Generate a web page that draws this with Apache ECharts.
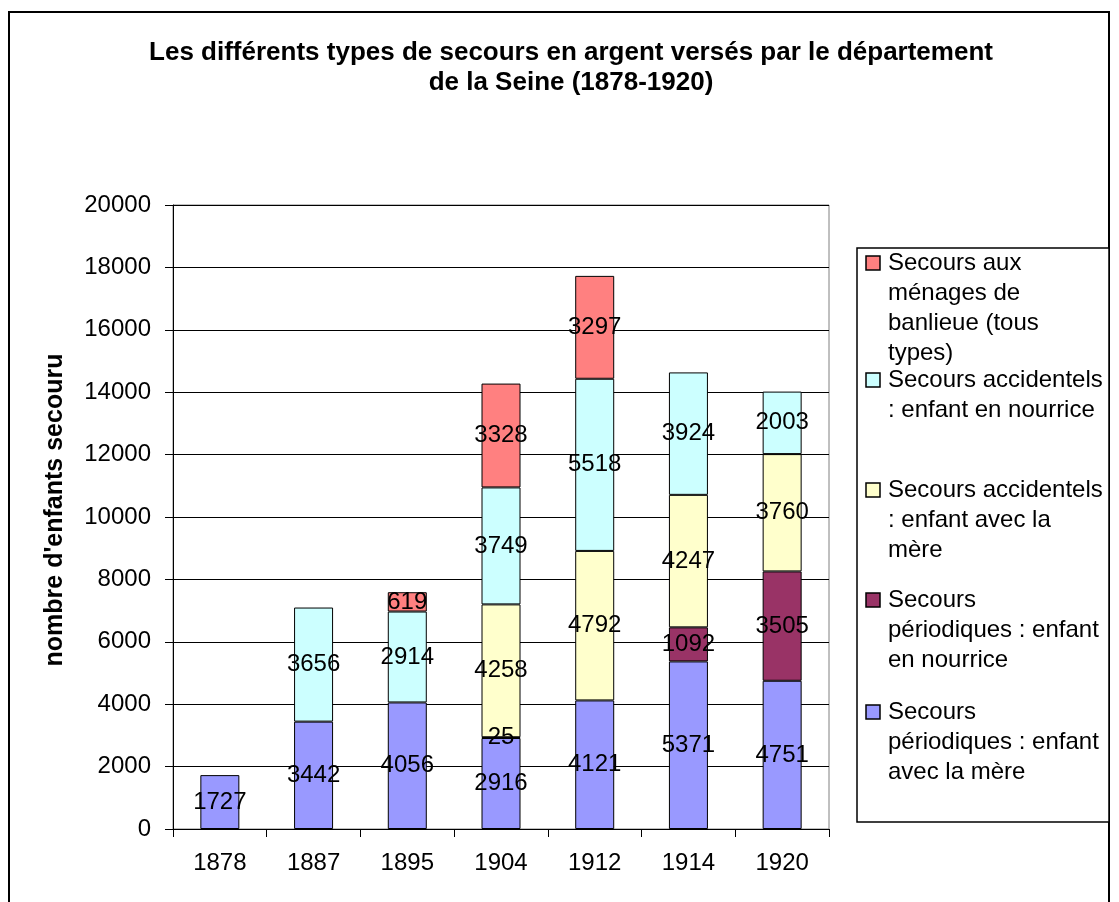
<!DOCTYPE html>
<html>
<head>
<meta charset="utf-8">
<script src="https://cdn.jsdelivr.net/npm/echarts@6/dist/echarts.min.js"></script>
<style>
  html, body { margin: 0; padding: 0; background: #fff; }
  #chart { width: 1119px; height: 902px; }
</style>
</head>
<body>
<div id="chart"></div>
<script>
// Years of the survey
var years = ['1878', '1887', '1895', '1904', '1912', '1914', '1920'];

// Number of children helped, by kind of relief (null = none recorded)
var periodiqueMere     = [1727, 3442, 4056, 2916, 4121, 5371, 4751];
var periodiqueNourrice = [null, null, null, 25, null, 1092, 3505];
var accidentelMere     = [null, null, null, 4258, 4792, 4247, 3760];
var accidentelNourrice = [null, 3656, 2914, 3749, 5518, 3924, 2003];
var banlieue           = [null, null, 619, 3328, 3297, null, null];

// Series names, stacked from bottom to top
var seriesNames = [
  'Secours périodiques : enfant avec la mère',
  'Secours périodiques : enfant en nourrice',
  'Secours accidentels : enfant avec la mère',
  'Secours accidentels : enfant en nourrice',
  'Secours aux ménages de banlieue (tous types)'
];
// Legend wording (wrapped), same order as the series
var legendTexts = [
  'Secours\npériodiques : enfant\navec la mère',
  'Secours\npériodiques : enfant\nen nourrice',
  'Secours accidentels\n: enfant avec la\nmère',
  'Secours accidentels\n: enfant en nourrice',
  'Secours aux\nménages de\nbanlieue (tous\ntypes)'
];
var seriesValues = [periodiqueMere, periodiqueNourrice, accidentelMere, accidentelNourrice, banlieue];
var seriesColors = ['#9999FF', '#993366', '#FFFFCC', '#CCFFFF', '#FF8080'];

var FONT = '"Liberation Sans", Arial, sans-serif';

var chart = echarts.init(document.getElementById('chart'), null, { renderer: 'canvas' });

var series = seriesValues.map(function (vals, i) {
  return {
    name: seriesNames[i],
    type: 'bar',
    stack: 'total',
    barWidth: 39,
    data: vals,
    itemStyle: { color: seriesColors[i], borderColor: '#000', borderWidth: 1 },
    label: {
      show: true,
      position: 'inside',
      color: '#000',
      fontSize: 24,
      fontFamily: FONT,
      textBorderWidth: 0
    },
    emphasis: { disabled: true }
  };
});

// Legend drawn as a boxed list, top entry = top of the stack
var legendFirstLine = [712, 600, 490, 380, 263];
var legendGraphics = [{
  type: 'rect',
  shape: { x: 857, y: 248, width: 252, height: 574 },
  style: { fill: '#fff', stroke: '#000', lineWidth: 1.5 },
  z: 10
}];
legendTexts.forEach(function (t, i) {
  var cy = legendFirstLine[i];
  legendGraphics.push({
    type: 'rect',
    shape: { x: 866, y: cy - 7, width: 14, height: 14 },
    style: { fill: seriesColors[i], stroke: '#000', lineWidth: 1.5 },
    z: 11
  });
  legendGraphics.push({
    type: 'text',
    x: 888,
    y: cy - 15,
    style: {
      text: t,
      fill: '#000',
      fontSize: 24,
      fontFamily: FONT,
      lineHeight: 30,
      align: 'left',
      verticalAlign: 'top'
    },
    z: 11
  });
});

var option = {
  backgroundColor: '#fff',
  animation: false,
  title: {
    text: 'Les différents types de secours en argent versés par le département\nde la Seine (1878-1920)',
    left: 571,
    top: 38,
    padding: 0,
    textAlign: 'center',
    textStyle: { fontSize: 26, fontWeight: 'bold', fontFamily: FONT, color: '#000', lineHeight: 30 }
  },
  grid: {
    left: 173, right: 290, top: 205, bottom: 73,
    show: true, borderColor: '#808080', borderWidth: 1, backgroundColor: 'transparent'
  },
  xAxis: {
    type: 'category',
    data: years,
    axisLine: { lineStyle: { color: '#000', width: 1 } },
    axisTick: { show: true, length: 8, lineStyle: { color: '#000' } },
    axisLabel: { color: '#000', fontSize: 24, fontFamily: FONT, margin: 22 }
  },
  yAxis: {
    type: 'value',
    min: 0, max: 20000, interval: 2000,
    name: "nombre d'enfants secouru",
    nameLocation: 'middle',
    nameGap: 105,
    nameTextStyle: { fontSize: 25, fontWeight: 'bold', fontFamily: FONT, color: '#000', padding: [0, 0, 0, 14] },
    axisLine: { show: true, lineStyle: { color: '#000', width: 1 } },
    axisTick: { show: true, length: 8, lineStyle: { color: '#000' } },
    axisLabel: {
      color: '#000', fontSize: 24, fontFamily: FONT, margin: 22,
      formatter: function (v) { return String(v); }
    },
    splitLine: { show: true, lineStyle: { color: '#000', width: 1 } }
  },
  graphic: [{
    type: 'rect',
    shape: { x: 9, y: 12, width: 1100, height: 1000 },
    style: { fill: 'none', stroke: '#000', lineWidth: 2 },
    silent: true,
    z: 0
  }].concat(legendGraphics),
  series: series
};

chart.setOption(option);
</script>
</body>
</html>
